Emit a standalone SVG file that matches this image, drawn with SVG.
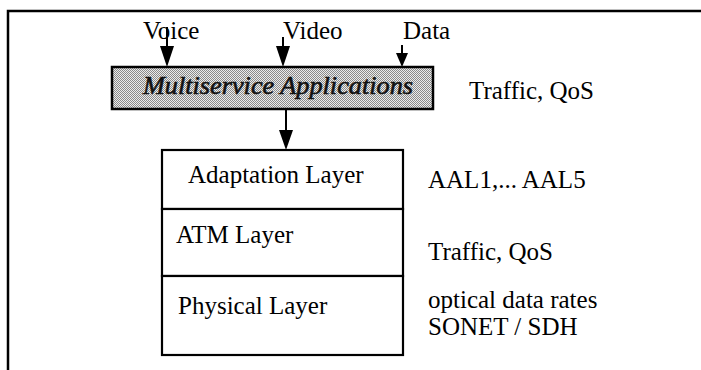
<svg xmlns="http://www.w3.org/2000/svg" width="701" height="370" viewBox="0 0 701 370">
  <style>
    .t { font-family: "Liberation Serif", "Times New Roman", serif; font-size: 25px; fill: #000; }
    .ti { font-family: "Liberation Serif", "Times New Roman", serif; font-size: 25px; font-style: italic; fill: #111; stroke: #111; stroke-width: 0.6; }
    .box { fill: #fff; stroke: #000; stroke-width: 2.2; }
    .line { stroke: #000; stroke-width: 2; fill: none; }
    .frame { stroke: #000; stroke-width: 2.5; fill: none; }
  </style>
  <defs>
    <pattern id="dither" width="2" height="2" patternUnits="userSpaceOnUse">
      <rect width="2" height="2" fill="#ececec"/>
      <rect width="1" height="1" fill="#8a8a8a"/>
      <rect x="1" y="1" width="1" height="1" fill="#8a8a8a"/>
    </pattern>
  </defs>

  <!-- page frame: top and left rules -->
  <g id="frame">
    <path class="frame" d="M8,370 L8,11 L701,11"/>
  </g>

  <!-- source labels -->
  <g id="voice"><text class="t" x="143" y="39">Voice</text></g>
  <g id="video"><text class="t" x="283" y="39">Video</text></g>
  <g id="data"><text class="t" x="403" y="39">Data</text></g>

  <!-- applications box -->
  <g id="multiservice">
    <rect x="112" y="67" width="321" height="42" fill="url(#dither)" stroke="#000" stroke-width="2.5"/>
    <text class="ti" x="278" y="94" text-anchor="middle" textLength="270" lengthAdjust="spacingAndGlyphs">Multiservice Applications</text>
  </g>

  <!-- protocol stack -->
  <g id="adaptation">
    <rect class="box" x="162" y="150" width="241" height="59"/>
    <text class="t" x="188" y="183">Adaptation Layer</text>
  </g>
  <g id="atm">
    <rect class="box" x="162" y="209" width="241" height="67"/>
    <text class="t" x="176" y="243">ATM Layer</text>
  </g>
  <g id="physical">
    <rect class="box" x="162" y="276" width="241" height="79"/>
    <text class="t" x="178" y="314">Physical Layer</text>
  </g>

  <!-- side annotations -->
  <g id="notes">
    <text class="t" x="469" y="99">Traffic, QoS</text>
    <text class="t" x="428" y="188">AAL1,... AAL5</text>
    <text class="t" x="428" y="260">Traffic, QoS</text>
    <text class="t" x="428" y="308">optical data rates</text>
    <text class="t" x="428" y="335">SONET / SDH</text>
  </g>

  <!-- connectors -->
  <g id="connectors">
    <line x1="167" y1="27" x2="167" y2="47" class="line"/>
    <path d="M160,46 L174,46 L167,67 Z" fill="#000"/>
    <line x1="283" y1="37" x2="283" y2="47" class="line"/>
    <path d="M276,46 L290,46 L283,67 Z" fill="#000"/>
    <line x1="402" y1="45" x2="402" y2="54" class="line"/>
    <path d="M396,53 L408,53 L402,67 Z" fill="#000"/>
    <line x1="286" y1="109" x2="286" y2="131" class="line"/>
    <path d="M279,130 L293,130 L286,150 Z" fill="#000"/>
  </g>
</svg>
